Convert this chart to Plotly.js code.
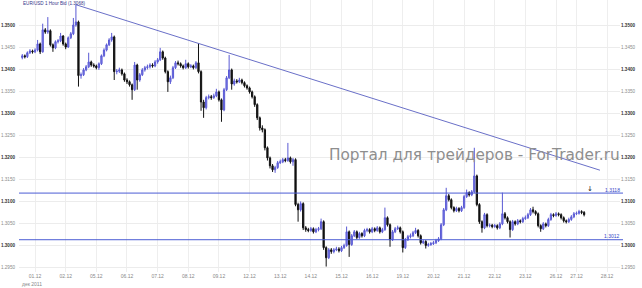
<!DOCTYPE html>
<html>
<head>
<meta charset="utf-8">
<script src="https://cdn.plot.ly/plotly-3.0.1.min.js"></script>
<style>html,body{margin:0;padding:0;background:#fff;}#chart{width:642px;height:288px;}</style>
</head>
<body>
<div id="chart"></div>
<script>
// EUR/USD 2-hour bars (hours counted from the first bar)
const firstOpen = 1.3426;
const closes = [
1.3430,1.3428,1.3437,1.3441,1.3439,1.3443,1.3457,1.3439,1.3489,1.3484,
1.3487,1.3455,1.3448,1.3462,1.3464,1.3475,1.3457,1.3450,1.3471,1.3480,
1.3500,1.3507,1.3385,1.3387,1.3398,1.3405,1.3416,1.3409,1.3407,1.3403,
1.3412,1.3430,1.3443,1.3455,1.3466,1.3473,1.3394,1.3395,1.3398,1.3389,
1.3375,1.3371,1.3364,1.3353,1.3409,1.3375,1.3387,1.3398,1.3403,1.3405,
1.3409,1.3407,1.3416,1.3421,1.3439,1.3425,1.3394,1.3371,1.3380,1.3403,
1.3414,1.3412,1.3407,1.3403,1.3412,1.3405,1.3407,1.3403,1.3414,1.3394,
1.3325,1.3312,1.3335,1.3337,1.3335,1.3339,1.3348,1.3330,1.3307,1.3353,
1.3380,1.3398,1.3366,1.3373,1.3371,1.3375,1.3369,1.3362,1.3357,1.3348,
1.3337,1.3319,1.3289,1.3266,1.3262,1.3221,1.3198,1.3180,1.3171,1.3176,
1.3187,1.3189,1.3194,1.3192,1.3198,1.3189,1.3194,1.3092,1.3080,1.3094,
1.3039,1.3035,1.3033,1.3037,1.3030,1.3035,1.3037,1.3053,1.2994,1.2971,
1.2989,1.2985,1.2989,1.2991,1.2987,1.2994,1.2999,1.3030,1.3001,1.3021,
1.3030,1.3017,1.3026,1.3021,1.3033,1.3035,1.3030,1.3037,1.3033,1.3039,
1.3030,1.3035,1.3062,1.3046,1.3012,1.3030,1.3037,1.3039,1.3030,1.2994,
1.3012,1.3019,1.3021,1.3028,1.3033,1.3021,1.3005,1.3008,1.2999,1.3001,
1.3003,1.3005,1.3010,1.3014,1.3046,1.3080,1.3112,1.3103,1.3085,1.3078,
1.3083,1.3078,1.3085,1.3110,1.3119,1.3114,1.3121,1.3157,1.3092,1.3053,
1.3039,1.3069,1.3044,1.3045,1.3042,1.3044,1.3039,1.3048,1.3071,1.3062,
1.3053,1.3035,1.3053,1.3048,1.3055,1.3053,1.3060,1.3062,1.3069,1.3080,
1.3076,1.3071,1.3044,1.3037,1.3048,1.3044,1.3058,1.3069,1.3067,1.3071,
1.3069,1.3062,1.3055,1.3053,1.3058,1.3064,1.3071,1.3072,1.3076,1.3074,1.3069];
const highs = [
1.3434,1.3433,1.3440,1.3445,1.3444,1.3447,1.3466,1.3460,1.3503,1.3493,
1.3518,1.3490,1.3458,1.3465,1.3468,1.3482,1.3477,1.3460,1.3474,1.3484,
1.3516,1.3546,1.3510,1.3392,1.3402,1.3409,1.3437,1.3419,1.3413,1.3410,
1.3415,1.3433,1.3447,1.3458,1.3470,1.3482,1.3476,1.3400,1.3403,1.3401,
1.3392,1.3379,1.3374,1.3367,1.3416,1.3412,1.3391,1.3402,1.3407,1.3410,
1.3413,1.3413,1.3420,1.3425,1.3448,1.3442,1.3428,1.3397,1.3385,1.3407,
1.3418,1.3419,1.3415,1.3410,1.3421,1.3415,1.3411,1.3410,1.3418,1.3459,
1.3397,1.3330,1.3339,1.3342,1.3341,1.3344,1.3355,1.3351,1.3333,1.3357,
1.3384,1.3432,1.3401,1.3378,1.3377,1.3380,1.3378,1.3372,1.3365,1.3360,
1.3351,1.3340,1.3322,1.3292,1.3272,1.3265,1.3224,1.3201,1.3184,1.3180,
1.3191,1.3194,1.3198,1.3198,1.3232,1.3201,1.3198,1.3197,1.3096,1.3099,
1.3097,1.3043,1.3039,1.3041,1.3040,1.3039,1.3041,1.3060,1.3056,1.2997,
1.2993,1.2993,1.2993,1.2996,1.2995,1.2998,1.3003,1.3042,1.3033,1.3025,
1.3034,1.3033,1.3030,1.3029,1.3037,1.3039,1.3038,1.3041,1.3040,1.3043,
1.3042,1.3039,1.3085,1.3065,1.3049,1.3034,1.3041,1.3044,1.3042,1.3033,
1.3016,1.3023,1.3026,1.3032,1.3039,1.3036,1.3024,1.3012,1.3011,1.3005,
1.3007,1.3009,1.3014,1.3018,1.3050,1.3084,1.3130,1.3116,1.3106,1.3088,
1.3087,1.3086,1.3089,1.3114,1.3126,1.3122,1.3125,1.3221,1.3160,1.3095,
1.3056,1.3073,1.3072,1.3049,1.3048,1.3048,1.3047,1.3052,1.3119,1.3075,
1.3065,1.3056,1.3057,1.3056,1.3059,1.3058,1.3064,1.3067,1.3073,1.3084,
1.3087,1.3079,1.3074,1.3047,1.3052,1.3051,1.3062,1.3073,1.3072,1.3075,
1.3074,1.3072,1.3065,1.3058,1.3062,1.3068,1.3075,1.3076,1.3080,1.3079,1.3077];
const lows = [
1.3422,1.3424,1.3425,1.3434,1.3435,1.3436,1.3440,1.3434,1.3437,1.3480,
1.3480,1.3451,1.3439,1.3445,1.3458,1.3461,1.3453,1.3445,1.3448,1.3468,
1.3477,1.3496,1.3360,1.3378,1.3384,1.3395,1.3402,1.3405,1.3403,1.3399,
1.3398,1.3409,1.3427,1.3440,1.3452,1.3462,1.3375,1.3388,1.3391,1.3385,
1.3371,1.3366,1.3360,1.3330,1.3350,1.3353,1.3371,1.3384,1.3394,1.3399,
1.3401,1.3403,1.3404,1.3412,1.3418,1.3421,1.3390,1.3348,1.3366,1.3377,
1.3400,1.3408,1.3403,1.3399,1.3400,1.3401,1.3402,1.3399,1.3400,1.3390,
1.3305,1.3289,1.3308,1.3331,1.3330,1.3332,1.3336,1.3326,1.3280,1.3304,
1.3350,1.3377,1.3353,1.3362,1.3367,1.3368,1.3365,1.3358,1.3353,1.3344,
1.3333,1.3314,1.3284,1.3260,1.3256,1.3215,1.3192,1.3174,1.3166,1.3164,
1.3173,1.3184,1.3186,1.3188,1.3189,1.3185,1.3180,1.3088,1.3053,1.3076,
1.3034,1.3030,1.3029,1.3030,1.3026,1.3027,1.3031,1.3034,1.2989,1.2951,
1.2968,1.2980,1.2981,1.2986,1.2983,1.2984,1.2991,1.2996,1.2973,1.2998,
1.3018,1.3013,1.3014,1.3017,1.3018,1.3029,1.3026,1.3027,1.3029,1.3030,
1.3026,1.3027,1.3032,1.3042,1.2996,1.3009,1.3027,1.3034,1.3026,1.2983,
1.2991,1.3009,1.3015,1.3018,1.3025,1.3017,1.3001,1.3002,1.2992,1.2996,
1.2998,1.3000,1.3002,1.3007,1.3011,1.3043,1.3077,1.3099,1.3081,1.3074,
1.3075,1.3074,1.3075,1.3082,1.3107,1.3110,1.3111,1.3118,1.3088,1.3048,
1.3028,1.3036,1.3040,1.3040,1.3038,1.3039,1.3035,1.3036,1.3045,1.3058,
1.3049,1.3017,1.3032,1.3044,1.3045,1.3049,1.3050,1.3057,1.3059,1.3066,
1.3072,1.3067,1.3040,1.3030,1.3034,1.3040,1.3041,1.3055,1.3063,1.3064,
1.3065,1.3058,1.3051,1.3049,1.3050,1.3055,1.3061,1.3068,1.3069,1.3070,1.3065];
const barHours = 2;

const dayStartHours = [11,35,59,83,107,131,155,179,203,227,251,275,299,323,347,371,395,419,435,459];
const dayLabels = ['01.12','02.12','05.12','06.12','07.12','08.12','09.12','12.12','13.12','14.12','15.12','16.12','19.12','20.12','21.12','22.12','23.12','26.12','27.12','28.12'];
const monthLabel = 'дек 2011';

const yTickVals = [1.2950,1.3000,1.3050,1.3100,1.3150,1.3200,1.3250,1.3300,1.3350,1.3400,1.3450,1.3500];

const trendHours = [43.1, 453.4];
const trendPrices = [1.3546, 1.3170];

const levels = [1.3118, 1.3012];
const chartTitle = 'EUR/USD 1 Hour Bid (1.3068)';
const watermark = 'Портал для трейдеров - ForTrader.ru';

// ---- build ----
const opens = [firstOpen].concat(closes.slice(0, -1));
const xs = closes.map((_, i) => i * barHours + barHours / 2);

const yTickText = yTickVals.map(v => {
  const s = v.toFixed(4);
  const major = Math.abs(Math.round(v * 100) - v * 100) < 1e-6;
  return major ? '<span style="color:#333"><b>' + s + '</b></span>' : '<span style="color:#8a8a8a">' + s + '</span>';
});

const candles = {
  type: 'candlestick',
  x: xs, open: opens, high: highs, low: lows, close: closes,
  increasing: {line: {color: '#5a5ad4', width: 1}, fillcolor: '#8080ec'},
  decreasing: {line: {color: '#111111', width: 1}, fillcolor: '#111111'},
  whiskerwidth: 0,
  hoverinfo: 'skip',
  showlegend: false
};
const trend = {
  type: 'scatter', mode: 'lines',
  x: trendHours, y: trendPrices, yaxis: 'y2',
  line: {color: '#6a70c8', width: 1},
  hoverinfo: 'skip', showlegend: false
};

const yRange = [1.293864, 1.355682];
const tickFontY = {family: 'Liberation Sans, Arial, sans-serif', size: 4.6, color: '#888'};
const smallFont = {family: 'Liberation Sans, Arial, sans-serif', size: 5, color: '#888'};

const shapes = levels.map(v => ({
  type: 'line', xref: 'paper', x0: 0, x1: 1.005, yref: 'y', y0: v, y1: v,
  line: {color: '#4a5cd4', width: 1}
}));
const annotations = levels.map(v => ({
  xref: 'paper', x: 1.0033, xanchor: 'right', yref: 'y', y: v, yanchor: 'bottom', yshift: -1.5,
  text: v.toFixed(4), showarrow: false,
  font: {family: 'Liberation Sans, Arial, sans-serif', size: 5, color: '#3346c8'}
}));
annotations.push({
  xref: 'paper', x: 0.5125, xanchor: 'left', yref: 'paper', y: 0.43, yanchor: 'middle',
  text: watermark, showarrow: false,
  font: {family: 'DejaVu Sans, Verdana, sans-serif', size: 15.3, color: '#8e8e8e'}
});
annotations.push({
  xref: 'paper', x: 0.950, xanchor: 'center', yref: 'paper', y: 0.305, yanchor: 'middle',
  text: '↓', showarrow: false,
  font: {family: 'DejaVu Sans, sans-serif', size: 7, color: '#222'}
});
annotations.push({
  xref: 'paper', x: 0.0216, xanchor: 'center', yref: 'paper', y: -0.044, yanchor: 'middle',
  text: monthLabel, showarrow: false, font: smallFont
});

const layout = {
  width: 642, height: 288,
  margin: {l: 19, r: 22, t: 0, b: 16, pad: 0},
  paper_bgcolor: '#ffffff', plot_bgcolor: '#ffffff',
  showlegend: false,
  title: {
    text: chartTitle, xref: 'container', x: 23 / 642, xanchor: 'left',
    yref: 'container', y: 1 - 3.5 / 288, yanchor: 'middle',
    font: {family: 'Liberation Sans, Arial, sans-serif', size: 4.6, color: '#35358a'}
  },
  xaxis: {
    range: [-1.57, 469.1], tickmode: 'array', tickvals: dayStartHours, ticktext: dayLabels,
    tickfont: smallFont, automargin: false,
    showgrid: true, gridcolor: '#eeeeee', gridwidth: 1, zeroline: false, showline: false, ticks: '',
    rangeslider: {visible: false}, fixedrange: true
  },
  yaxis: {
    range: yRange, tickmode: 'array', tickvals: yTickVals, ticktext: yTickText, side: 'left',
    tickfont: tickFontY, showgrid: true, gridcolor: '#ececec', zeroline: false, showline: false,
    ticks: '', ticklabelstandoff: 3, fixedrange: true, automargin: false
  },
  yaxis2: {
    range: yRange, tickmode: 'array', tickvals: yTickVals, ticktext: yTickText, side: 'right',
    overlaying: 'y', tickfont: tickFontY, showgrid: false, zeroline: false, showline: false,
    ticks: '', fixedrange: true, automargin: false
  },
  shapes: shapes,
  annotations: annotations
};

Plotly.newPlot('chart', [candles, trend], layout, {staticPlot: true, displayModeBar: false});
</script>
</body>
</html>
